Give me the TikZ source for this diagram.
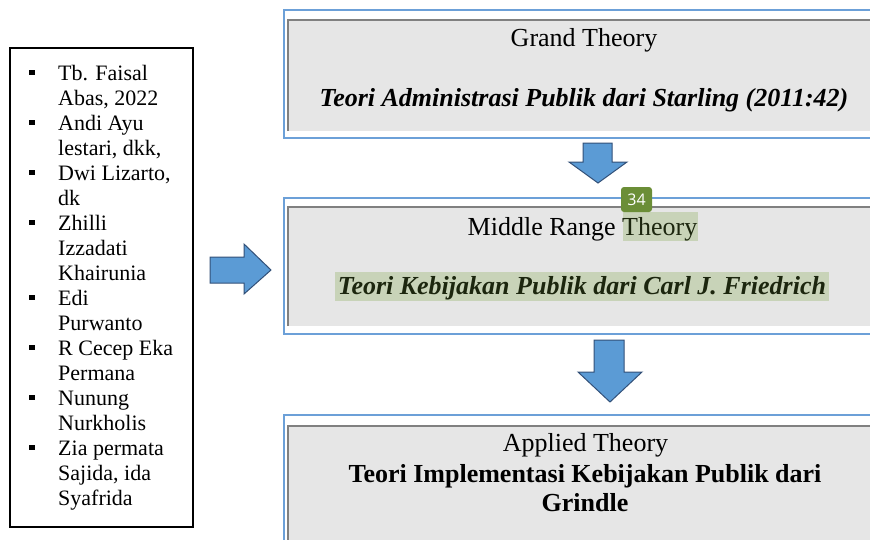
\documentclass[tikz,border=0pt]{standalone}
\usepackage{fontspec}
\setmainfont{Liberation Serif}
\setsansfont{Open Sans}
\definecolor{boxgray}{RGB}{230,230,230}
\definecolor{edgegray}{RGB}{128,128,128}
\definecolor{outblue}{RGB}{108,160,216}
\definecolor{arrfill}{RGB}{91,155,213}
\definecolor{arredge}{RGB}{50,80,120}
\definecolor{hl}{RGB}{200,211,184}
\definecolor{hltext}{RGB}{28,38,14}
\definecolor{badge}{RGB}{107,142,55}
\begin{document}
\begin{tikzpicture}[x=1pt,y=-1pt,
  outer/.style={draw=outblue,line width=2pt},
  grayfill/.style={fill=boxgray},
  grayedge/.style={draw=edgegray,line width=1.6pt},
  blockarrow/.style={fill=arrfill,draw=arredge,line width=1pt,line join=miter},
  bigtxt/.style={inner sep=0pt,anchor=base,font=\fontsize{26}{30}\selectfont},
  listtxt/.style={inner sep=0pt,anchor=base west,font=\fontsize{22}{25}\selectfont},
  bulletsq/.style={fill=black,inner sep=0pt,minimum size=5.5pt},
]
\useasboundingbox (0,0) rectangle (870,539);
\clip (0,0) rectangle (870,539);

% ---------- left list box ----------
\draw[line width=1.8pt] (10,48) rectangle (193,527);
\node[listtxt] (l1)  at (58,80)  {Tb. Faisal};
\node[listtxt] (l2)  at (58,105) {Abas, 2022};
\node[listtxt] (l3)  at (58,130) {Andi Ayu};
\node[listtxt] (l4)  at (58,155) {lestari, dkk,};
\node[listtxt] (l5)  at (58,180) {Dwi Lizarto,};
\node[listtxt] (l6)  at (58,205) {dk};
\node[listtxt] (l7)  at (58,230) {Zhilli};
\node[listtxt] (l8)  at (58,255) {Izzadati};
\node[listtxt] (l9)  at (58,280) {Khairunia};
\node[listtxt] (l10) at (58,305) {Edi};
\node[listtxt] (l11) at (58,330) {Purwanto};
\node[listtxt] (l12) at (58,355) {R Cecep Eka};
\node[listtxt] (l13) at (58,380) {Permana};
\node[listtxt] (l14) at (58,405) {Nunung};
\node[listtxt] (l15) at (58,430) {Nurkholis};
\node[listtxt] (l16) at (58,455) {Zia permata};
\node[listtxt] (l17) at (58,480) {Sajida, ida};
\node[listtxt] (l18) at (58,505) {Syafrida};
\foreach \b/\y in {b1/80,b2/130,b3/180,b4/230,b5/305,b6/355,b7/405,b8/455}
  \node[bulletsq] (\b) at (32,\y-7.5) {};

% ---------- right arrow ----------
\draw[blockarrow] (210,257) -- (244,257) -- (244,244) -- (271,270)
  -- (244,294) -- (244,283) -- (210,283) -- cycle;

% ---------- Grand Theory box ----------
\draw[outer] (284,10) rectangle (880,138);
\fill[grayfill] (288,20) rectangle (880,131);
\draw[grayedge] (288,131) -- (288,20) -- (880,20);
\node[bigtxt] (grand) at (584,46) {Grand Theory};
\node[bigtxt,font=\fontsize{26}{30}\selectfont\bfseries\itshape] (grandT) at (584,106)
  {Teori Administrasi Publik dari Starling (2011:42)};

% ---------- down arrow 1 ----------
\draw[blockarrow] (583,143) -- (612,143) -- (612,162) -- (627,162) -- (598,183)
  -- (569,162) -- (583,162) -- cycle;

% ---------- Middle Range Theory box ----------
\draw[outer] (284,198) rectangle (880,334);
\fill[grayfill] (288,207) rectangle (880,326);
\draw[grayedge] (288,326) -- (288,207) -- (880,207);
\fill[hl] (623,212) rectangle (698,241);
\fill[hl] (335,272) rectangle (829,301);
\node[bigtxt] (middle) at (582.5,235) {Middle Range \textcolor{hltext}{Theory}};
\node[bigtxt,text=hltext,font=\fontsize{26}{30}\selectfont\bfseries\itshape] (middleT) at (582,294)
  {Teori Kebijakan Publik dari Carl J. Friedrich};
\node[fill=badge,rounded corners=3pt,text=white,inner sep=0pt,
  minimum width=31pt,minimum height=25pt,font=\sffamily\fontsize{16}{16}\selectfont]
  (badge34) at (636.5,199.5) {34};

% ---------- down arrow 2 ----------
\draw[blockarrow] (594,340) -- (624,340) -- (624,372) -- (642,372) -- (610,402)
  -- (578,372) -- (594,372) -- cycle;

% ---------- Applied Theory box ----------
\draw[outer] (284,415) rectangle (880,560);
\fill[grayfill] (288,426) rectangle (880,560);
\draw[grayedge] (288,560) -- (288,426) -- (880,426);
\node[bigtxt] (applied) at (585.5,451) {Applied Theory};
\node[bigtxt,font=\fontsize{26}{30}\selectfont\bfseries] (appliedT1) at (585,482)
  {Teori Implementasi Kebijakan Publik dari};
\node[bigtxt,font=\fontsize{26}{30}\selectfont\bfseries] (appliedT2) at (585,511)
  {Grindle};
\end{tikzpicture}
\end{document}
